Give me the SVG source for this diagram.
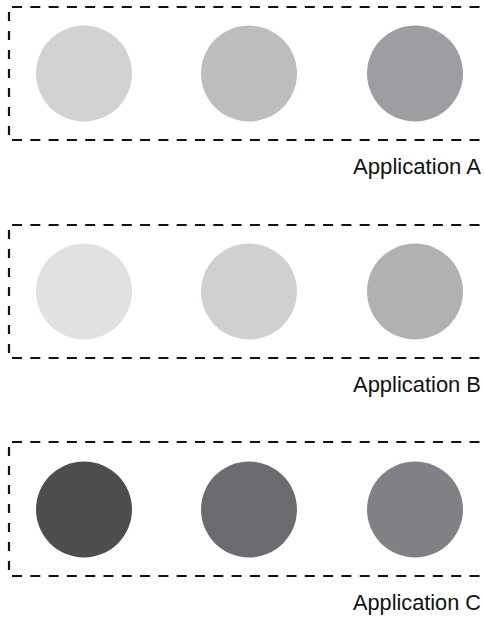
<svg xmlns="http://www.w3.org/2000/svg" width="484" height="618" viewBox="0 0 484 618">
<style>
.h{stroke:#111111;stroke-width:2.2;stroke-dasharray:10 8.3;fill:none}
.v{stroke:#111111;stroke-width:2.2;stroke-dasharray:9 10;fill:none}
.lbl{font-family:"Liberation Sans",Arial,sans-serif;font-size:22px;fill:#111111;text-anchor:end}
</style>
<rect width="484" height="618" fill="#ffffff"/>
<g id="appA">
<line class="h" x1="12" y1="7" x2="484" y2="7"/>
<line class="v" x1="9" y1="12" x2="9" y2="136"/>
<line class="h" x1="12" y1="140" x2="484" y2="140"/>
<circle cx="84" cy="73.5" r="48" fill="#d1d2d4"/>
<circle cx="249" cy="73.5" r="48" fill="#bcbdbf"/>
<circle cx="415" cy="73.5" r="48" fill="#9d9ea1"/>
<text class="lbl" x="481" y="174" textLength="128" lengthAdjust="spacingAndGlyphs">Application A</text>
</g>
<g id="appB">
<line class="h" x1="12" y1="225" x2="484" y2="225"/>
<line class="v" x1="9" y1="230" x2="9" y2="354"/>
<line class="h" x1="12" y1="358" x2="484" y2="358"/>
<circle cx="84" cy="291.5" r="48" fill="#e0e1e2"/>
<circle cx="249" cy="291.5" r="48" fill="#cfd0d2"/>
<circle cx="415" cy="291.5" r="48" fill="#b0b1b3"/>
<text class="lbl" x="481" y="392" textLength="128" lengthAdjust="spacingAndGlyphs">Application B</text>
</g>
<g id="appC">
<line class="h" x1="12" y1="442" x2="484" y2="442"/>
<line class="v" x1="9" y1="447" x2="9" y2="572"/>
<line class="h" x1="12" y1="576" x2="484" y2="576"/>
<circle cx="84" cy="509.5" r="48" fill="#4d4d4f"/>
<circle cx="249" cy="509.5" r="48" fill="#6b6c6f"/>
<circle cx="415" cy="509.5" r="48" fill="#808184"/>
<text class="lbl" x="481" y="610" textLength="128" lengthAdjust="spacingAndGlyphs">Application C</text>
</g>
<g id="connectors"/>
</svg>
